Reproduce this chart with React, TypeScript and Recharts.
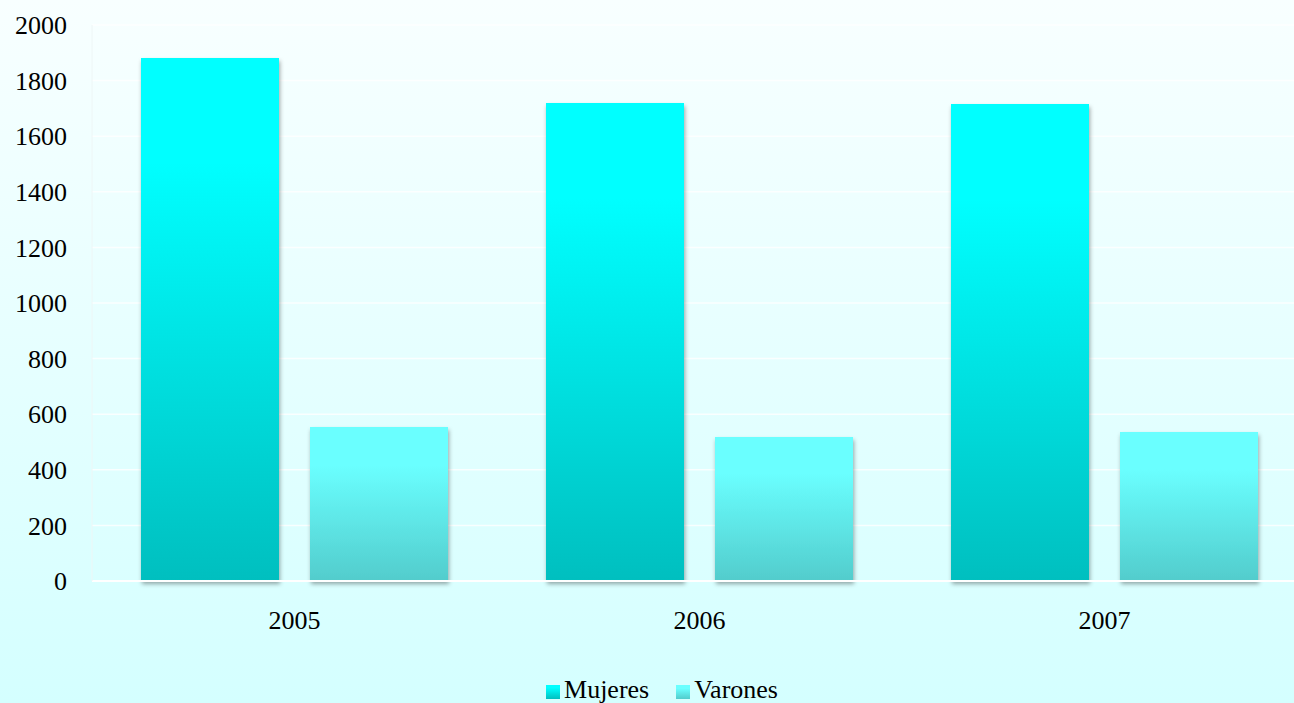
import React from "react";
import { BarChart, Bar, XAxis, YAxis, CartesianGrid, Legend } from "recharts";

const years = ["2005", "2006", "2007"];
const mujeres = [1881, 1719, 1716];
const varones = [554, 518, 536];
const yTicks = [0, 200, 400, 600, 800, 1000, 1200, 1400, 1600, 1800, 2000];

const data = years.map((year, i) => ({
  year,
  Mujeres: mujeres[i],
  Varones: varones[i],
}));

const font = "'Liberation Serif', 'Times New Roman', serif";

const App = () => {
  return (
    <div
      style={{
        position: "fixed",
        left: 0,
        top: 0,
        width: 1294,
        height: 703,
        overflow: "hidden",
        background: "linear-gradient(to bottom, #f8ffff 0%, #d4ffff 100%)",
        fontFamily: font,
      }}
    >
      <BarChart
        width={1310}
        height={703}
        data={data}
        margin={{ top: 25, right: 3, bottom: -2, left: 0 }}
        barCategoryGap={49}
        barGap={31}
        style={{ fontFamily: font }}
      >
        <defs>
          <linearGradient id="gradM" x1="0" y1="0" x2="0" y2="1">
            <stop offset="0%" stopColor="#00ffff" />
            <stop offset="20%" stopColor="#00ffff" />
            <stop offset="100%" stopColor="#00bfbf" />
          </linearGradient>
          <linearGradient id="gradV" x1="0" y1="0" x2="0" y2="1">
            <stop offset="0%" stopColor="#6affff" />
            <stop offset="25%" stopColor="#6affff" />
            <stop offset="100%" stopColor="#52cccc" />
          </linearGradient>
          <filter id="barShadow" x="-10%" y="-10%" width="120%" height="120%">
            <feDropShadow dx="1" dy="3" stdDeviation="2" floodColor="#000" floodOpacity="0.35" />
          </filter>
        </defs>
        <CartesianGrid vertical={false} stroke="#ffffff" strokeOpacity={0.8} strokeWidth={1.5} />
        <XAxis
          dataKey="year"
          height={94}
          tickSize={0}
          tickMargin={30}
          axisLine={{ stroke: "#ffffff", strokeWidth: 2 }}
          tick={{ fill: "#000", fontSize: 26, fontFamily: font }}
        />
        <YAxis
          width={92}
          domain={[0, 2000]}
          ticks={yTicks}
          interval={0}
          tickSize={0}
          tickMargin={25}
          axisLine={{ stroke: "#eef6f6" }}
          tick={{ fill: "#000", fontSize: 26, fontFamily: font }}
        />
        <Legend
          verticalAlign="bottom"
          iconType="square"
          iconSize={14}
          wrapperStyle={{ fontFamily: font, fontSize: 26, paddingLeft: 22 }}
          formatter={(value: string) => (
            <span style={{ color: "#000", marginRight: 17 }}>{value}</span>
          )}
        />
        <Bar dataKey="Mujeres" fill="url(#gradM)" filter="url(#barShadow)" isAnimationActive={false} />
        <Bar dataKey="Varones" fill="url(#gradV)" filter="url(#barShadow)" isAnimationActive={false} />
      </BarChart>
    </div>
  );
};

export default App;
